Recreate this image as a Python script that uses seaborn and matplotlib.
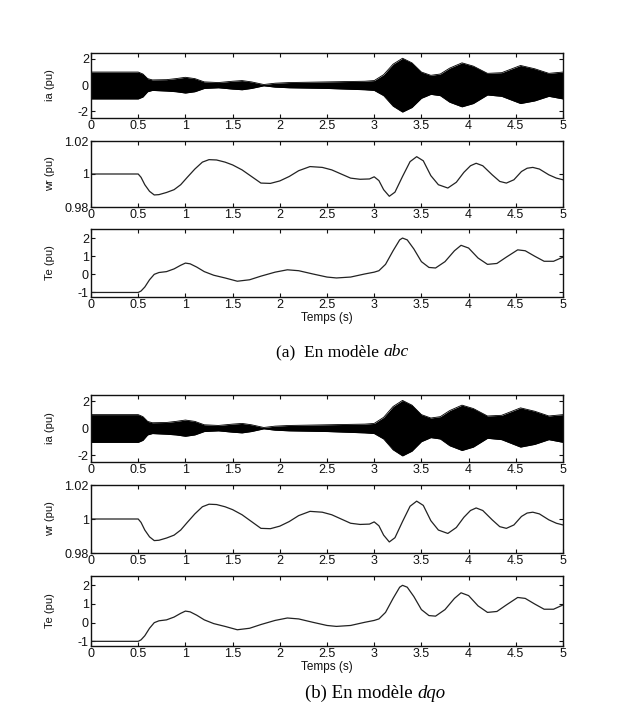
import numpy as np
import pandas as pd
import matplotlib
matplotlib.use("Agg")
import matplotlib.pyplot as plt
import seaborn as sns

sns.set_theme(style="white")
plt.rcParams['font.family'] = ['Liberation Sans', 'DejaVu Sans']

# ---------------- data ----------------
# stator current ia: envelope of the 60 Hz oscillation
t_ia = [0, 0.5, 0.55, 0.6, 0.65, 0.8, 0.9, 1.0, 1.1, 1.2, 1.35, 1.5, 1.6, 1.7,
        1.83, 1.95, 2.1, 2.5, 2.9, 3.0, 3.1, 3.2, 3.3, 3.4, 3.5, 3.6, 3.7, 3.8,
        3.93, 4.05, 4.2, 4.35, 4.55, 4.7, 4.85, 5.0]
ia_upper = [1.0, 1.0, 0.85, 0.5, 0.4, 0.42, 0.5, 0.6, 0.5, 0.25, 0.2, 0.3, 0.35, 0.25,
            0.05, 0.15, 0.2, 0.25, 0.3, 0.35, 0.8, 1.6, 2.05, 1.7, 1.0, 0.75, 0.85, 1.3,
            1.7, 1.45, 0.9, 0.95, 1.5, 1.25, 0.9, 1.0]
ia_lower = [-1.05, -1.05, -0.9, -0.5, -0.4, -0.45, -0.5, -0.6, -0.5, -0.25, -0.2, -0.3, -0.35, -0.25,
            -0.05, -0.15, -0.2, -0.25, -0.35, -0.4, -0.8, -1.6, -2.05, -1.7, -1.0, -0.7, -0.8, -1.3,
            -1.65, -1.4, -0.75, -0.85, -1.4, -1.2, -0.85, -1.05]

# rotor speed wr
t_wr = [0, 0.5, 0.53, 0.57, 0.62, 0.67, 0.72, 0.8, 0.88, 0.95, 1.02, 1.1, 1.18, 1.25,
        1.33, 1.42, 1.5, 1.6, 1.7, 1.8, 1.9, 2.0, 2.1, 2.2, 2.32, 2.45, 2.55, 2.65,
        2.75, 2.85, 2.95, 3.0, 3.05, 3.1, 3.16, 3.22, 3.3, 3.38, 3.45, 3.52, 3.6,
        3.68, 3.78, 3.87, 3.95, 4.02, 4.08, 4.15, 4.25, 4.33, 4.4, 4.48, 4.56, 4.62,
        4.68, 4.75, 4.85, 4.93, 5.0]
wr = [1.0, 1.0, 0.998, 0.9935, 0.9895, 0.9873, 0.9875, 0.9888, 0.9905, 0.9935, 0.998,
      1.003, 1.0072, 1.0087, 1.0085, 1.0072, 1.0055, 1.0025, 0.9985, 0.9945, 0.9943,
      0.9958, 0.9985, 1.002, 1.0045, 1.004, 1.0025, 1.0, 0.9975, 0.9968, 0.997, 0.9983,
      0.996, 0.9905, 0.9865, 0.989, 0.9985, 1.0075, 1.0105, 1.008, 0.999, 0.9935,
      0.9915, 0.995, 1.001, 1.005, 1.0065, 1.005, 0.9995, 0.9955, 0.9945, 0.9965,
      1.0015, 1.0035, 1.004, 1.003, 0.9995, 0.9975, 0.9965]

# electromagnetic torque Te
t_te = [0, 0.5, 0.53, 0.57, 0.62, 0.67, 0.72, 0.8, 0.88, 0.95, 1.0, 1.05, 1.12, 1.2,
        1.3, 1.42, 1.55, 1.68, 1.8, 1.95, 2.08, 2.2, 2.35, 2.5, 2.6, 2.75, 2.9, 3.0,
        3.05, 3.12, 3.2, 3.27, 3.3, 3.35, 3.42, 3.5, 3.58, 3.65, 3.75, 3.85, 3.92,
        4.0, 4.1, 4.2, 4.3, 4.4, 4.52, 4.6, 4.7, 4.8, 4.9, 5.0]
te = [-1.0, -1.0, -0.92, -0.7, -0.3, 0.0, 0.1, 0.15, 0.3, 0.5, 0.62, 0.58, 0.4, 0.15,
      -0.05, -0.2, -0.38, -0.3, -0.1, 0.12, 0.25, 0.2, 0.02, -0.15, -0.2, -0.15, 0.02,
      0.12, 0.2, 0.55, 1.3, 1.9, 2.0, 1.9, 1.4, 0.7, 0.38, 0.35, 0.7, 1.3, 1.6, 1.45,
      0.9, 0.55, 0.6, 0.95, 1.35, 1.3, 1.0, 0.72, 0.72, 0.95]

x_ticks = [0, 0.5, 1, 1.5, 2, 2.5, 3, 3.5, 4, 4.5, 5]
x_ticklabels = ["0", "0.5", "1", "1.5", "2", "2.5", "3", "3.5", "4", "4.5", "5"]
ia_ticks, ia_ticklabels = [-2, 0, 2], ["-2", "0", "2"]
wr_ticks, wr_ticklabels = [0.98, 1.0, 1.02], ["0.98", "1", "1.02"]
te_ticks, te_ticklabels = [-1, 0, 1, 2], ["-1", "0", "1", "2"]
captions = [("(a)  En modèle ", "abc"), ("(b) En modèle ", "dqo")]

# ---------------- figure ----------------
W, H = 642, 719
fig = plt.figure(figsize=(W / 100, H / 100), dpi=100)
fig.patch.set_facecolor("white")

def frac_axes(top_px, bottom_px, left_px=91, right_px=563):
    return fig.add_axes([left_px / W, 1 - bottom_px / H,
                         (right_px - left_px) / W, (bottom_px - top_px) / H])

ink = "#111111"
tick_fs = 9

def style(ax, yticks, yticklabels, ylim, ylabel, xlabel=None):
    ax.set_xlim(0, 5)
    ax.set_ylim(*ylim)
    ax.set_xticks(x_ticks)
    ax.set_xticklabels(x_ticklabels, fontsize=tick_fs, color=ink)
    ax.set_yticks(yticks)
    ax.set_yticklabels(yticklabels, fontsize=tick_fs, color=ink)
    ax.tick_params(direction="in", length=3, width=0.8, top=True, right=True,
                   bottom=True, left=True, colors=ink, pad=1.5)
    for s in ax.spines.values():
        s.set_color(ink)
        s.set_linewidth(1.0)
    ax.set_ylabel(ylabel, fontsize=8, color=ink)
    ax.yaxis.set_label_coords(-0.076, 0.5)
    if xlabel:
        ax.set_xlabel(xlabel, fontsize=8.5, color=ink, labelpad=0.5)
    else:
        ax.set_xlabel("")
    ax.grid(False)
    ax.set_facecolor("white")

df_wr = pd.DataFrame({"t": t_wr, "wr": wr})
df_te = pd.DataFrame({"t": t_te, "te": te})
df_ia = pd.DataFrame({"t": t_ia, "up": ia_upper, "lo": ia_lower})

panels = [
    dict(ia=(53, 118), wr=(141, 207), te=(229, 297), cap_y=352, split_x=383, cap_fs=12.5),
    dict(ia=(395, 462), wr=(485, 553), te=(576, 646), cap_y=693, split_x=417, cap_fs=13.5),
]

for p, cap in zip(panels, captions):
    ax1 = frac_axes(*p["ia"])
    ax1.fill_between(df_ia["t"], df_ia["lo"], df_ia["up"], color="black", lw=0)
    sns.lineplot(data=df_ia, x="t", y="up", ax=ax1, color="black", lw=0.6)
    sns.lineplot(data=df_ia, x="t", y="lo", ax=ax1, color="black", lw=0.6)
    style(ax1, ia_ticks, ia_ticklabels, (-2.5, 2.45), "ia (pu)")

    ax2 = frac_axes(*p["wr"])
    sns.lineplot(data=df_wr, x="t", y="wr", ax=ax2, color="#222222", lw=0.9)
    style(ax2, wr_ticks, wr_ticklabels, (0.98, 1.02), "wr (pu)")

    ax3 = frac_axes(*p["te"])
    sns.lineplot(data=df_te, x="t", y="te", ax=ax3, color="#222222", lw=0.9)
    style(ax3, te_ticks, te_ticklabels, (-1.25, 2.5), "Te (pu)", xlabel="Temps (s)")

    # caption: normal text + italic model name
    yy = 1 - p["cap_y"] / H
    xx = p["split_x"] / W
    fig.text(xx, yy, cap[0], ha="right", va="center", fontsize=p["cap_fs"],
             family="Liberation Serif", color="black")
    fig.text(xx, yy, cap[1], ha="left", va="center", fontsize=p["cap_fs"],
             family="Liberation Serif", style="italic", color="black")

fig.savefig("out.png", dpi=100, facecolor="white")
